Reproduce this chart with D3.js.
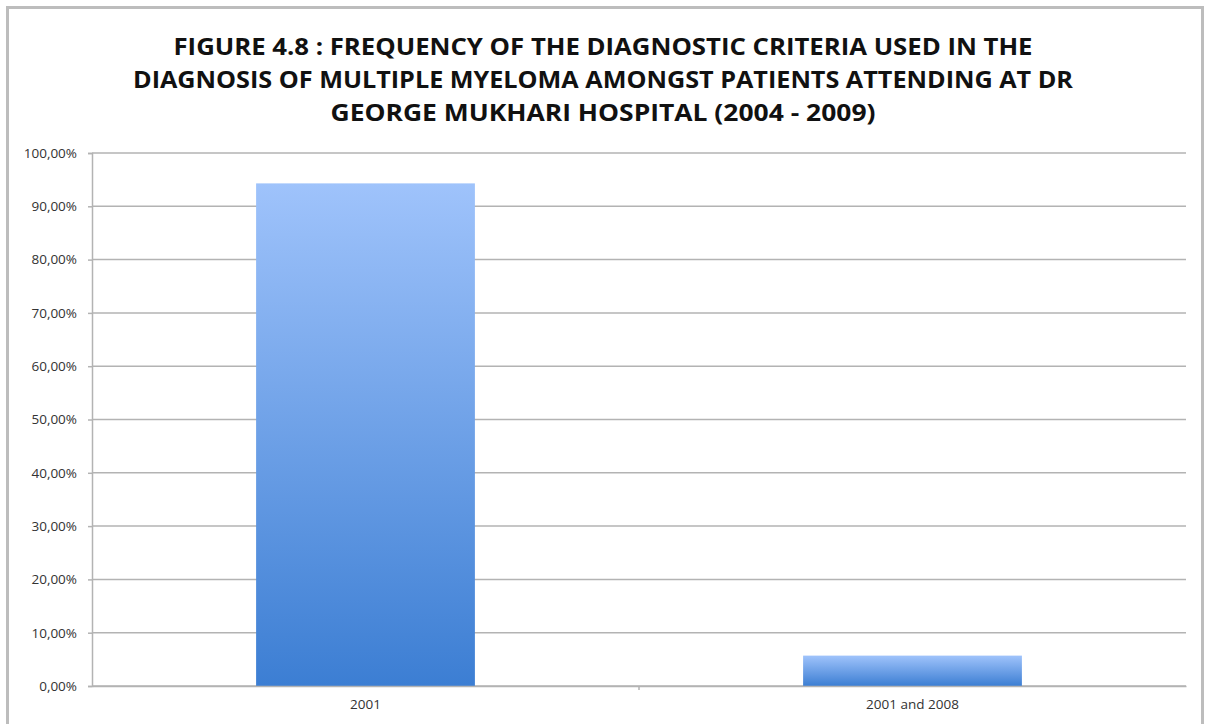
<!DOCTYPE html>
<html>
<head>
<meta charset="utf-8">
<script src="https://cdn.jsdelivr.net/npm/d3@7"></script>
<style>
  html, body { margin: 0; padding: 0; background: #fff; }
  svg { display: block; }
</style>
</head>
<body>
<svg id="chart" width="1206" height="724"></svg>
<script>
// Diagnostic criteria used and share of patients
const categories = ["2001", "2001 and 2008"];
const values = [94.3, 5.7];
const yTicks = [0, 10, 20, 30, 40, 50, 60, 70, 80, 90, 100];
const titleLines = [
  "FIGURE 4.8 : FREQUENCY OF THE DIAGNOSTIC CRITERIA USED IN THE",
  "DIAGNOSIS OF MULTIPLE MYELOMA AMONGST PATIENTS ATTENDING AT DR",
  "GEORGE MUKHARI HOSPITAL (2004 - 2009)"
];

const W = 1206, H = 724;
const margin = { left: 92, top: 153 };
const plotRight = 1186;
const plotBottom = 686;

const svg = d3.select("#chart");

// outer frame
svg.append("rect")
  .attr("x", 7.5).attr("y", 7.5)
  .attr("width", 1195).attr("height", 730)
  .attr("fill", "#fff")
  .attr("stroke", "#bdbdbd").attr("stroke-width", 3);

// each bar shades from light blue at its top to deeper blue at its base
const defs = svg.append("defs");
const grad = defs.append("linearGradient")
  .attr("id", "barGrad")
  .attr("x1", 0).attr("x2", 0)
  .attr("y1", 0).attr("y2", 1);
grad.append("stop").attr("offset", "0%").attr("stop-color", "#9fc3fb");
grad.append("stop").attr("offset", "100%").attr("stop-color", "#3c7ed3");

const x = d3.scaleBand()
  .domain(categories)
  .range([margin.left, plotRight])
  .paddingInner(0.6)
  .paddingOuter(0.3);

const y = d3.scaleLinear()
  .domain([0, 100])
  .range([plotBottom, margin.top]);

const fmt = v => d3.format(".2f")(v).replace(".", ",") + "%";
const labelFont = "'Open Sans', sans-serif";

// horizontal gridlines
svg.append("g")
  .selectAll("line")
  .data(yTicks)
  .join("line")
  .attr("x1", margin.left).attr("x2", plotRight)
  .attr("y1", d => y(d)).attr("y2", d => y(d))
  .attr("stroke", "#b3b3b3").attr("stroke-width", 1.5);

// y axis
const yAxis = svg.append("g")
  .attr("transform", `translate(${margin.left},0)`)
  .call(d3.axisLeft(y).tickValues(yTicks).tickFormat(fmt).tickSize(4).tickPadding(11));
yAxis.select(".domain").attr("stroke", "#b3b3b3").attr("stroke-width", 1.5);
yAxis.selectAll(".tick line").attr("stroke", "#b3b3b3").attr("stroke-width", 1.5);
yAxis.selectAll(".tick text")
  .attr("font-family", labelFont)
  .attr("font-size", 13.5)
  .attr("fill", "#333");

// bars
svg.append("g")
  .selectAll("rect")
  .data(categories.map((c, i) => ({ c, v: values[i] })))
  .join("rect")
  .attr("x", d => x(d.c))
  .attr("width", x.bandwidth())
  .attr("y", d => y(d.v))
  .attr("height", d => y(0) - y(d.v))
  .attr("fill", "url(#barGrad)");

// x axis
const xAxis = svg.append("g")
  .attr("transform", `translate(0,${plotBottom})`)
  .call(d3.axisBottom(x).tickSize(0).tickPadding(13));
xAxis.select(".domain").attr("stroke", "#b3b3b3").attr("stroke-width", 1.5);
xAxis.selectAll(".tick text")
  .attr("font-family", labelFont)
  .attr("font-size", 13.5)
  .attr("fill", "#333");

// tick between categories
svg.append("line")
  .attr("x1", (margin.left + plotRight) / 2).attr("x2", (margin.left + plotRight) / 2)
  .attr("y1", plotBottom).attr("y2", plotBottom + 4)
  .attr("stroke", "#b3b3b3").attr("stroke-width", 1.5);

// title, fitted to its line widths
const titleWidths = [859, 940, 545];
const titleY = [55, 88, 121];
titleLines.forEach((t, i) => {
  svg.append("text")
    .attr("x", 603).attr("y", titleY[i])
    .attr("text-anchor", "middle")
    .attr("font-family", "'Open Sans', sans-serif")
    .attr("font-weight", "bold")
    .attr("font-size", 24)
    .attr("fill", "#111")
    .attr("textLength", titleWidths[i])
    .attr("lengthAdjust", "spacingAndGlyphs")
    .text(t);
});
</script>
</body>
</html>
